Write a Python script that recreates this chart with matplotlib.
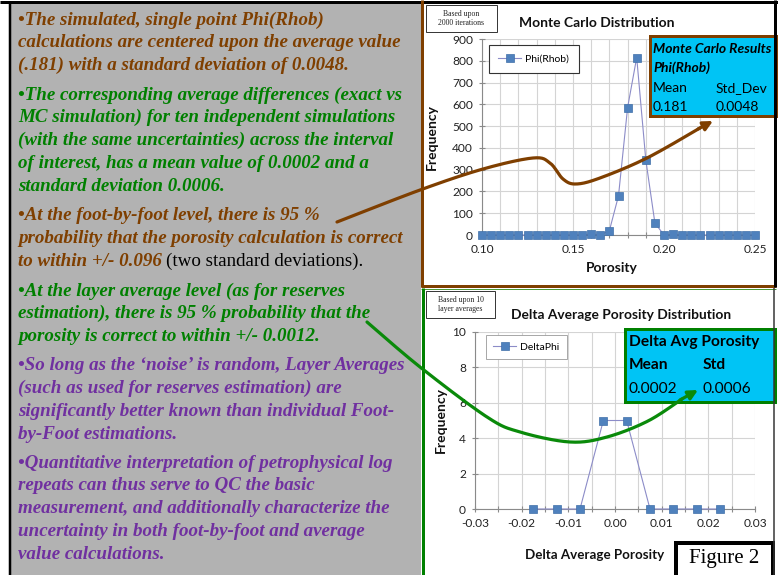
import numpy as np
import matplotlib
matplotlib.use("Agg")
import matplotlib.pyplot as plt
from matplotlib.patches import Rectangle

# Monte Carlo distribution of single point Phi(Rhob), 2000 iterations
phi_bins = [0.100, 0.105, 0.110, 0.115, 0.120, 0.125, 0.130, 0.135, 0.140, 0.145,
            0.150, 0.155, 0.160, 0.165, 0.170, 0.175, 0.180, 0.185, 0.190, 0.195,
            0.200, 0.205, 0.210, 0.215, 0.220, 0.225, 0.230, 0.235, 0.240, 0.245, 0.250]
phi_counts = [0, 0, 0, 0, 0, 0, 0, 0, 0, 0,
              0, 0, 5, 0, 20, 180, 585, 815, 345, 55,
              0, 3, 0, 0, 0, 0, 0, 0, 0, 0, 0]
phi_xticks = [0.10, 0.15, 0.20, 0.25]
phi_yticks = [0, 100, 200, 300, 400, 500, 600, 700, 800, 900]

# delta average porosity over 10 layer averages
delta_bins = [-0.0175, -0.0125, -0.0075, -0.0025, 0.0025, 0.0075, 0.0125, 0.0175, 0.0225]
delta_counts = [0, 0, 0, 5, 5, 0, 0, 0, 0]
delta_xticks = [-0.03, -0.02, -0.01, 0.00, 0.01, 0.02, 0.03]
delta_yticks = [0, 2, 4, 6, 8, 10]

W, H = 778, 575
BROWN = "#7f3f00"
GREEN = "#008000"
PURPLE = "#7030a0"
GREY = "#b2b2b2"
CYAN = "#00c4f5"
BLUE = "#4f81bd"
SERIF = "Liberation Serif"
SANS = "Lato"


def fx(x):
    return x / W


def fy(y):
    return 1 - y / H


def px(v):
    # pixel width -> points
    return v * 0.72


def smooth(pts, n=25):
    # Catmull-Rom through the control points
    p = np.array(pts, float)
    p = np.vstack([p[0], p, p[-1]])
    t = np.linspace(0, 1, n)[:, None]
    segs = []
    for i in range(1, len(p) - 2):
        p0, p1, p2, p3 = p[i - 1], p[i], p[i + 1], p[i + 2]
        segs.append(0.5 * (2 * p1 + (-p0 + p2) * t
                           + (2 * p0 - 5 * p1 + 4 * p2 - p3) * t ** 2
                           + (-p0 + 3 * p1 - 3 * p2 + p3) * t ** 3))
    return np.vstack(segs)


fig = plt.figure(figsize=(W / 100, H / 100), dpi=100)
fig.patch.set_facecolor("white")

# background layer in pixel coordinates
bg = fig.add_axes([0, 0, 1, 1], zorder=0)
bg.set_xlim(0, W)
bg.set_ylim(H, 0)
bg.axis("off")
bg.add_patch(Rectangle((10, 3), 411, 575, facecolor=GREY, edgecolor="none"))
bg.plot([10, 10], [2, H], color="black", lw=px(2.5), solid_capstyle="butt")
bg.plot([0, W], [2, 2], color="black", lw=px(3), solid_capstyle="butt")

# left text panel
paragraphs = [
    (BROWN, 20, ["\u2022The simulated, single point Phi(Rhob)",
                 "calculations are centered upon the average value",
                 "(.181) with a standard deviation of 0.0048."]),
    (GREEN, 95, ["\u2022The corresponding average differences (exact vs",
                 "MC simulation) for ten independent simulations",
                 "(with the same uncertainties) across the interval",
                 "of interest, has a mean value of 0.0002 and a",
                 "standard deviation 0.0006."]),
    (BROWN, 216, ["\u2022At the foot-by-foot level, there is 95 %",
                  "probability that the porosity calculation is correct",
                  "to within +/- 0.096"]),
    (GREEN, 291, ["\u2022At the layer average level (as for reserves",
                  "estimation), there is 95 % probability that the",
                  "porosity is correct to within +/- 0.0012."]),
    (PURPLE, 366, ["\u2022So long as the \u2018noise\u2019 is random, Layer Averages",
                   "(such as used for reserves estimation) are",
                   "significantly better known than individual Foot-",
                   "by-Foot estimations."]),
    (PURPLE, 463, ["\u2022Quantitative interpretation of petrophysical log",
                   "repeats can thus serve to QC the basic",
                   "measurement, and additionally characterize the",
                   "uncertainty in both foot-by-foot and average",
                   "value calculations."]),
]
line_step = 22.8
text_size = 13.7
last_bold = None
for color, y0, lines in paragraphs:
    for i, line in enumerate(lines):
        t = bg.text(18, y0 + i * line_step, line, color=color, fontsize=text_size,
                    family=SERIF, weight="bold", style="italic",
                    ha="left", va="center")
        if line.startswith("to within"):
            last_bold = t

fig.canvas.draw()
rend = fig.canvas.get_renderer()
bb = last_bold.get_window_extent(rend)
x_end = bb.x1 * W / (fig.bbox.width)
bg.text(x_end + 4, 216 + 2 * line_step, "(two standard deviations).", color="black",
        fontsize=text_size, family=SERIF, ha="left", va="center")

# ---- Monte Carlo chart ----
ax1 = fig.add_axes([fx(482), fy(235), fx(755) - fx(482), fy(39) - fy(235)], zorder=1)
ax1.set_facecolor("none")
ax1.plot(phi_bins, phi_counts, color="#8c8cc8", lw=0.8, marker="s", ms=6,
         mfc=BLUE, mec="#3f6fa8", mew=0.5, label="Phi(Rhob)", zorder=3, clip_on=False)
ax1.set_xlim(0.10, 0.25)
ax1.set_ylim(0, 900)
ax1.set_xticks(phi_xticks)
ax1.set_xticklabels(["%.2f" % v for v in phi_xticks])
ax1.set_xticks([0.10 + 0.01 * k for k in range(16)], minor=True)
ax1.set_yticks(phi_yticks)

# ---- Delta average chart ----
ax2 = fig.add_axes([fx(475), fy(509), fx(755) - fx(475), fy(332) - fy(509)], zorder=1)
ax2.set_facecolor("none")
ax2.plot(delta_bins, delta_counts, color="#8c8cc8", lw=0.8, marker="s", ms=6,
         mfc=BLUE, mec="#3f6fa8", mew=0.5, label="DeltaPhi", zorder=3, clip_on=False)
ax2.set_xlim(-0.03, 0.03)
ax2.set_ylim(0, 10)
ax2.set_xticks(delta_xticks)
ax2.set_xticklabels(["%.2f" % v for v in delta_xticks])
ax2.set_xticks([-0.03 + 0.005 * k for k in range(13)], minor=True)
ax2.set_yticks(delta_yticks)

for ax in (ax1, ax2):
    ax.grid(True, which="both", color="#d4d4d4", lw=0.8)
    ax.set_axisbelow(True)
    for s in ("top", "right"):
        ax.spines[s].set_visible(False)
    for s in ("left", "bottom"):
        ax.spines[s].set_color("#8a8a8a")
        ax.spines[s].set_linewidth(0.8)
    ax.tick_params(which="both", direction="inout", length=5, width=0.8,
                   color="#8a8a8a", labelsize=8.6, labelcolor="#222222", pad=4)
    for lab in ax.get_xticklabels() + ax.get_yticklabels():
        lab.set_family(SANS)

leg1 = ax1.legend(loc="upper left", bbox_to_anchor=(fx(489), fy(45)),
                  bbox_transform=fig.transFigure, borderaxespad=0, fancybox=False,
                  framealpha=1, edgecolor="#333333", prop={"family": SANS, "size": 7.5},
                  handlelength=2.2, handletextpad=0.4, numpoints=1, borderpad=0.9)
leg1.get_frame().set_linewidth(0.8)
leg2 = ax2.legend(loc="upper left", bbox_to_anchor=(fx(486), fy(335)),
                  bbox_transform=fig.transFigure, borderaxespad=0, fancybox=False,
                  framealpha=1, edgecolor="#999999", prop={"family": SANS, "size": 7.5},
                  handlelength=2.2, handletextpad=0.4, numpoints=1, borderpad=0.7)
leg2.get_frame().set_linewidth(0.6)

# ---- overlay: frames, labels, callouts ----
ov = fig.add_axes([0, 0, 1, 1], zorder=5)
ov.set_xlim(0, W)
ov.set_ylim(H, 0)
ov.axis("off")
ov.patch.set_alpha(0)

# chart frames
ov.plot([422.5, 422.5], [0, 287], color=BROWN, lw=px(3), solid_capstyle="butt")
ov.plot([421, 776], [286, 286], color=BROWN, lw=px(3), solid_capstyle="butt")
ov.plot([421, 776], [288.5, 288.5], color="#4a9a3a", lw=px(1), solid_capstyle="butt")
ov.plot([423.5, 423.5], [288, H], color=GREEN, lw=px(3), solid_capstyle="butt")
ov.plot([775.5, 775.5], [0, 287], color="black", lw=px(3), solid_capstyle="butt")
ov.plot([774, 774], [288, H], color="#333333", lw=px(1.5), solid_capstyle="butt")

# small notes
ov.add_patch(Rectangle((426, 5), 71, 27, facecolor="white", edgecolor="#333333", lw=0.7))
ov.text(461.5, 18.5, "Based upon\n2000 iterations", family=SERIF, fontsize=5.6,
        ha="center", va="center", linespacing=1.3, color="#222222")
ov.add_patch(Rectangle((426, 291), 69, 27, facecolor="white", edgecolor="#333333", lw=0.7))
ov.text(460.5, 304.5, "Based upon 10\nlayer averages", family=SERIF, fontsize=5.6,
        ha="center", va="center", linespacing=1.3, color="#222222")

# titles and axis labels
ov.text(597, 23, "Monte Carlo Distribution", family=SANS, weight="bold", fontsize=10,
        ha="center", va="center", color="#111111")
ov.text(621, 315, "Delta Average Porosity Distribution", family=SANS, weight="bold",
        fontsize=9.9, ha="center", va="center", color="#111111")
ov.text(432, 137, "Frequency", family=SANS, weight="bold", fontsize=10, rotation=90,
        ha="center", va="center", color="#111111")
ov.text(441, 420, "Frequency", family=SANS, weight="bold", fontsize=10, rotation=90,
        ha="center", va="center", color="#111111")
ov.text(612, 268, "Porosity", family=SANS, weight="bold", fontsize=10,
        ha="center", va="center", color="#111111")
ov.text(595, 555, "Delta Average Porosity", family=SANS, weight="bold", fontsize=9.6,
        ha="center", va="center", color="#111111")

# results boxes
ov.add_patch(Rectangle((650, 36), 126, 80, facecolor=CYAN, edgecolor=BROWN, lw=px(3)))
ov.text(653, 49, "Monte Carlo Results", family=SANS, weight="bold", style="italic",
        fontsize=10, ha="left", va="center", color="black")
ov.text(653, 68, "Phi(Rhob)", family=SANS, weight="bold", style="italic",
        fontsize=10, ha="left", va="center", color="black")
ov.text(653, 88, "Mean", family=SANS, fontsize=10, ha="left", va="center", color="black")
ov.text(716, 88, "Std_Dev", family=SANS, fontsize=10, ha="left", va="center", color="black")
ov.text(653, 107, "0.181", family=SANS, fontsize=10, ha="left", va="center", color="black")
ov.text(716, 107, "0.0048", family=SANS, fontsize=10, ha="left", va="center", color="black")

ov.add_patch(Rectangle((625, 328.5), 150, 73, facecolor=CYAN, edgecolor=GREEN, lw=px(3)))
ov.text(629, 342, "Delta Avg Porosity", family=SANS, weight="bold", fontsize=11.2,
        ha="left", va="center", color="black")
ov.text(629, 365, "Mean", family=SANS, weight="bold", fontsize=11.2,
        ha="left", va="center", color="black")
ov.text(703, 365, "Std", family=SANS, weight="bold", fontsize=11.2,
        ha="left", va="center", color="black")
ov.text(629, 389, "0.0002", family=SANS, fontsize=11.2, ha="left", va="center", color="black")
ov.text(703, 389, "0.0006", family=SANS, fontsize=11.2, ha="left", va="center", color="black")

# figure tag
ov.add_patch(Rectangle((676, 543), 97, 34, facecolor="white", edgecolor="black", lw=px(4)))
ov.text(724.5, 559, "Figure 2", family=SERIF, fontsize=15, ha="center", va="center",
        color="black")

# callout curves from the text panel into the charts
brown_path = smooth([(337, 222), (420, 190), (483, 169), (533, 158), (550, 163),
                     (563, 179), (576, 184), (600, 178), (647, 158), (700, 128)])
ov.plot(brown_path[:, 0], brown_path[:, 1], color=BROWN, lw=px(3.2),
        solid_capstyle="round")
ov.annotate("", xy=(713, 121), xytext=(698, 129),
            arrowprops=dict(arrowstyle="-|>", color=BROWN, lw=px(3.2), mutation_scale=14,
                            shrinkA=0, shrinkB=0))

green_path = smooth([(367, 322), (420, 367), (487, 417), (520, 432), (570, 442),
                     (607, 437), (648, 421), (682, 399)])
ov.plot(green_path[:, 0], green_path[:, 1], color="#0a8a0a", lw=px(3.2),
        solid_capstyle="round")
ov.annotate("", xy=(698, 390), xytext=(680, 400),
            arrowprops=dict(arrowstyle="-|>", color="#0a8a0a", lw=px(3.2),
                            mutation_scale=14, shrinkA=0, shrinkB=0))

fig.savefig("out.png", dpi=100)
